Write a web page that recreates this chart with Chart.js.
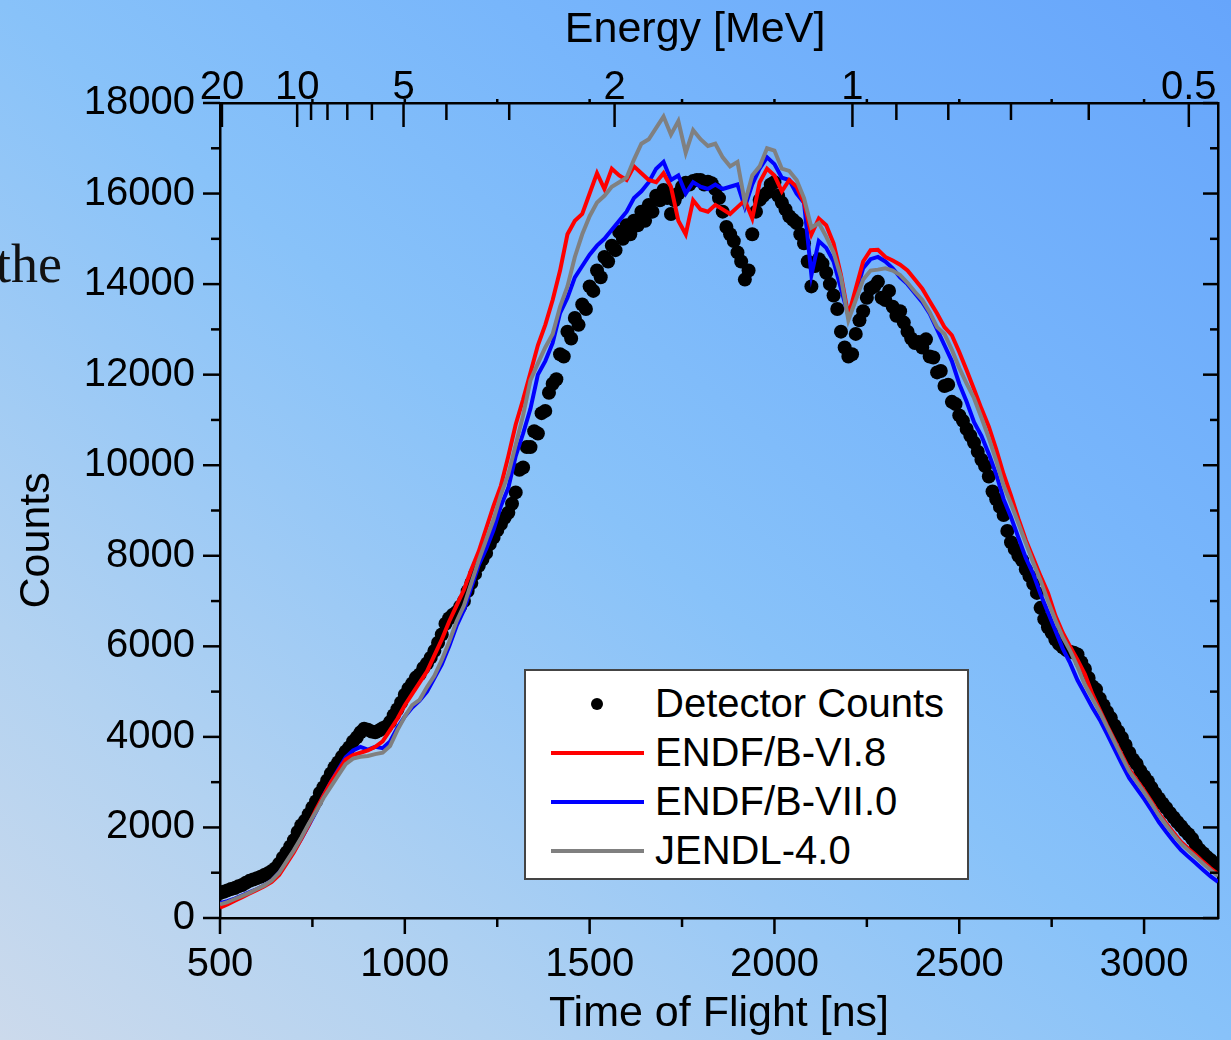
<!DOCTYPE html>
<html lang="en">
<head>
<meta charset="UTF-8">
<title>Time of Flight spectrum</title>
<style>
  html, body { margin: 0; padding: 0; }
  body {
    width: 1231px; height: 1040px; overflow: hidden; position: relative;
    background: linear-gradient(to top right, #ccdaec 0%, #b2d2f1 20%, #98c8f6 38%, #88c2f9 50%, #78b6fb 70%, #66a5fb 100%);
    font-family: "Liberation Sans", Arial, sans-serif;
  }
  #myChart { position: absolute; left: 0; top: 0; }
  .side { position: absolute; left: -4px; top: 237px; font-family: "Liberation Serif", "Times New Roman", serif;
          font-size: 54px; line-height: 1; color: #111; }
  #legend { position: absolute; left: 524px; top: 669px; width: 441px; height: 207px;
            background: #fff; border: 2px solid #444; }
  .row { position: absolute; left: 0; height: 49px; width: 100%; }
  .row span { position: absolute; left: 129px; top: 0; font-size: 40px; line-height: 49px; color: #000; white-space: nowrap; }
  .mark-line { position: absolute; left: 25px; top: 23px; width: 93px; height: 3.5px; }
  .mark-dot { position: absolute; left: 65px; top: 19px; width: 12px; height: 12px; border-radius: 50%; background: #000; }
</style>
</head>
<body>
<div class="side">the</div>
<canvas id="myChart" width="1231" height="1040"></canvas>
<div id="legend"></div>

<script src="https://cdn.jsdelivr.net/npm/chart.js"></script>
<script>
// ---- data ----
// detector counts, one point every 10 ns from 500 ns
const dotStart = 500, dotStep = 10
const detectorCounts = [
  550, 580, 610, 640, 660, 700, 730, 780, 820, 850,
  880, 910, 950, 990, 1040, 1100, 1200, 1330, 1450, 1580,
  1720, 1900, 2050, 2150, 2290, 2440, 2580, 2760, 2890, 3040,
  3190, 3330, 3440, 3560, 3680, 3770, 3900, 3990, 4100, 4180,
  4160, 4120, 4100, 4140, 4190, 4230, 4330, 4480, 4610, 4760,
  4930, 5070, 5180, 5310, 5380, 5520, 5620, 5750, 5900, 6080,
  6260, 6500, 6620, 6700, 6760, 6880, 7000, 7220, 7400, 7600,
  7780, 7920, 8060, 8260, 8400, 8560, 8700, 8840, 8950, 9150,
  9400, 9900, 9950, 10400, 10400, 10750, 10700, 11150, 11200, 11600,
  11800, 11900, 12450, 12400, 12950, 12800, 13250, 13100, 13550, 13450,
  13950, 13850, 14300, 14150, 14600, 14500, 14850, 14750, 15150, 15000,
  15300, 15100, 15400, 15300, 15600, 15400, 15750, 15600, 15950, 15850,
  16080, 15900, 15550, 15850, 16000, 16150, 16240, 16200, 16280, 16300,
  16300, 16200, 16260, 16230, 16100, 15900, 15600, 15260, 15100, 14950,
  14700, 14500, 14100, 14300, 15100, 15600, 15860, 15950, 16020, 16200,
  16250, 15950, 15800, 15650, 15500, 15420, 15350, 15100, 14900, 14500,
  13950, 14400, 14550, 14450, 14250, 14000, 13750, 13450, 12950, 12600,
  12400, 12450, 12900, 13200, 13400, 13700, 13900, 13950, 14050, 13700,
  13650, 13850, 13500, 13300, 13400, 13150, 12950, 12800, 12700, 12720,
  12600, 12780, 12400, 12380, 12050, 12080, 11750, 11780, 11400, 11350,
  11100, 10980, 10800, 10650, 10500, 10300, 10120, 9980, 9750, 9420,
  9250, 9080, 8900, 8550, 8300, 8150, 8000, 7900, 7700, 7550,
  7380, 7180, 6850, 6600, 6420, 6300, 6150, 6050, 5980, 5920,
  5880, 5860, 5820, 5650, 5500, 5300, 5120, 5050, 4850, 4700,
  4550, 4420, 4250, 4120, 3980, 3820, 3650, 3500, 3400, 3250,
  3130, 3020, 2880, 2750, 2640, 2530, 2430, 2320, 2220, 2120,
  2030, 1930, 1850, 1750, 1620, 1510, 1430, 1350, 1280, 1210,
  1150
]

// simulated spectra, one point every 20 ns from 500 ns
const simStart = 500, simStep = 20
const endfB68 = [
  230, 300, 380, 460, 540, 620, 700, 800, 950, 1200,
  1450, 1750, 2050, 2400, 2700, 3000, 3250, 3500, 3600, 3650,
  3700, 3780, 3900, 4150, 4400, 4700, 4950, 5200, 5450, 5800,
  6150, 6550, 6900, 7250, 7700, 8100, 8600, 9100, 9550, 10200,
  10900, 11450, 12050, 12650, 13100, 13650, 14300, 15100, 15400, 15550,
  16000, 16450, 16100, 16550, 16400, 16300, 16600, 16450, 16300, 16250,
  16450, 16150, 15400, 15100, 15850, 15650, 15600, 15750, 15650, 15550,
  15700, 15850, 15450, 16250, 16550, 16400, 16050, 16300, 16150, 15800,
  15100, 15450, 15300, 14900, 14200, 13300, 13900, 14500, 14750, 14760,
  14600, 14520, 14430, 14300, 14100, 13900, 13620, 13350, 13050, 12870,
  12500, 12100, 11680, 11250, 10850, 10350, 9800, 9330, 8820, 8350,
  7950, 7550, 7180, 6680, 6300, 5990, 5700, 5380, 4950, 4600,
  4250, 3930, 3600, 3280, 3050, 2820, 2570, 2310, 2090, 1880,
  1680, 1530, 1390, 1240, 1100, 970
]
const endfB70 = [
  330, 370, 430, 500, 570, 640, 720, 830, 1000, 1230,
  1480, 1750, 2050, 2350, 2700, 3000, 3280, 3550, 3700, 3780,
  3720, 3780, 3750, 3900, 4200, 4450, 4650, 4800, 5000, 5300,
  5600, 6000, 6450, 6800, 7300, 7800, 8150, 8570, 9100, 9500,
  10200, 10700, 11250, 12000, 12300, 12700, 13360, 13700, 14150, 14400,
  14650, 14850, 15000, 15200, 15400, 15600, 15900, 16050, 16250, 16550,
  16700, 16300, 16400, 16000, 16250, 16150, 16100, 16200, 16100, 16150,
  16200, 15700, 16200, 16550, 16800, 16650, 16350, 16300, 16000, 15800,
  14200, 14950, 14800, 14500, 13900, 13300, 13800, 14350, 14550, 14600,
  14500, 14350, 14150, 14000, 13800, 13600, 13350, 13000, 12650, 12300,
  11800, 11400, 10950, 10650, 10250, 9800, 9250, 8850, 8400, 7950,
  7600, 7150, 6750, 6350, 5950, 5630, 5250, 4950, 4650, 4380,
  4060, 3730, 3400, 3090, 2860, 2630, 2380, 2120, 1900, 1690,
  1500, 1350, 1210, 1060, 920, 800
]
const jendl40 = [
  300, 350, 420, 490, 560, 640, 720, 830, 1000, 1250,
  1500, 1780, 2080, 2350, 2650, 2900, 3150, 3400, 3520, 3560,
  3580, 3620, 3650, 3800, 4150, 4450, 4700, 4820, 5100, 5350,
  5700, 6100, 6550, 6900, 7400, 7900, 8350, 8800, 9350, 9800,
  10450, 11100, 11880, 12250, 12600, 12900, 13500, 13950, 14600, 15100,
  15500, 15800, 15950, 16150, 16250, 16350, 16750, 17100, 17200, 17450,
  17700, 17300, 17600, 16900, 17400, 17200, 17050, 17100, 16800, 16600,
  16700, 15800, 16400, 16600, 17000, 16950, 16550, 16500, 16300, 15900,
  15250, 15350, 15050, 14700, 14150, 13200, 13650, 14100, 14300, 14320,
  14350, 14300, 14200, 14030, 13830, 13650, 13380, 13050, 12900, 12550,
  12150, 11800, 11480, 11050, 10600, 10100, 9550, 9150, 8720, 8280,
  7850, 7450, 7000, 6580, 6200, 5900, 5550, 5150, 4850, 4550,
  4220, 3890, 3560, 3240, 3010, 2780, 2530, 2270, 2050, 1840,
  1640, 1490, 1350, 1200, 1060, 930
]

// axis ticks
const xTicks = [500, 1000, 1500, 2000, 2500, 3000]
const yTicks = [0, 2000, 4000, 6000, 8000, 10000, 12000, 14000, 16000, 18000]
const energyMajor = [20, 10, 5, 2, 1, 0.5]
const energyMajorText = ['20', '10', '5', '2', '1', '0.5']
const energyMinor = [9, 8, 7, 6, 4, 3, 0.9, 0.8, 0.7, 0.6]

// energy axis: time of flight (ns) for a neutron energy (MeV) over this flight path
const tofForEnergy = e => 14 + 2197 / Math.sqrt(e)

const toPoints = (vals, start, step) => vals.map((v, i) => ({x: start + i * step, y: v}))

Chart.defaults.font.family = '"Liberation Sans", Arial, sans-serif'
Chart.defaults.color = '#000'

const datasets = [
  {label: 'Detector Counts', data: toPoints(detectorCounts, dotStart, dotStep), showLine: false,
   pointRadius: 7, pointBackgroundColor: '#000', pointBorderWidth: 0, borderColor: '#000', order: 3},
  {label: 'ENDF/B-VI.8', data: toPoints(endfB68, simStart, simStep), borderColor: '#ff0000', order: 1},
  {label: 'ENDF/B-VII.0', data: toPoints(endfB70, simStart, simStep), borderColor: '#0000ff', order: 2},
  {label: 'JENDL-4.0', data: toPoints(jendl40, simStart, simStep), borderColor: '#808080', order: 0}
]
datasets.forEach(d => {
  d.clip = 0
  d.xAxisID = 'x'
  d.yAxisID = 'y'
  if (d.showLine !== false) { d.borderWidth = 4; d.pointRadius = 0; d.tension = 0; d.borderJoinStyle = 'miter' }
})

// tick marks: Origin style, some inward some outward
const tickMarks = {
  id: 'tickMarks',
  afterDraw(chart) {
    const {ctx, chartArea: a, scales} = chart
    ctx.save()
    ctx.strokeStyle = '#000'
    ctx.lineWidth = 2.5
    const seg = (x1, y1, x2, y2) => { ctx.beginPath(); ctx.moveTo(x1, y1); ctx.lineTo(x2, y2); ctx.stroke() }
    for (let v = 0; v <= 18000; v += 1000) {
      const py = scales.y.getPixelForValue(v)
      const major = yTicks.includes(v)
      seg(a.left - (major ? 17 : 9), py, a.left, py)
      seg(a.right, py, a.right - (major ? 15 : 8), py)
    }
    for (let t = 500; t <= 3200; t += 250) {
      const px = scales.x.getPixelForValue(t)
      const major = xTicks.includes(t)
      seg(px, a.bottom, px, a.bottom + (major ? 16 : 9))
      if (t > 500) seg(px, a.top, px, a.top - 4)
    }
    energyMajor.forEach(e => {
      const px = scales.xTop.getPixelForValue(tofForEnergy(e))
      seg(px, a.top, px, a.top + 24)
    })
    energyMinor.forEach(e => {
      const px = scales.xTop.getPixelForValue(tofForEnergy(e))
      seg(px, a.top, px, a.top + 17)
    })
    ctx.restore()
  }
}

const axisBorder = {display: true, color: '#000', width: 2.5}
const noGrid = {display: false, drawTicks: false, tickLength: 0}

var ctx = document.getElementById('myChart')
var myChart = new Chart(ctx, {
  type: 'line',
  data: {datasets: datasets},
  options: {
    responsive: false,
    animation: false,
    devicePixelRatio: 1,
    layout: {padding: 0},
    plugins: {legend: {display: false}, tooltip: {enabled: false}},
    scales: {
      x: {
        type: 'linear', position: 'bottom', min: 500, max: 3200, bounds: 'data',
        afterBuildTicks: s => { s.ticks = xTicks.map(v => ({value: v})) },
        afterFit: s => { s.height = 122 },
        grid: noGrid, border: axisBorder,
        ticks: {font: {size: 40, lineHeight: 1}, padding: 27, maxRotation: 0, autoSkip: false, callback: v => String(v)},
        title: {display: true, text: 'Time of Flight [ns]', font: {size: 43}, padding: {top: 0, bottom: 0}}
      },
      xTop: {
        type: 'linear', position: 'top', min: 500, max: 3200, bounds: 'data',
        afterBuildTicks: s => { s.ticks = energyMajor.map(e => ({value: tofForEnergy(e)})) },
        afterFit: s => { s.height = 103 },
        grid: noGrid, border: axisBorder,
        ticks: {font: {size: 40, lineHeight: 0.75}, padding: 0, maxRotation: 0, autoSkip: false,
                callback: (v, i) => energyMajorText[i]},
        title: {display: true, text: 'Energy [MeV]    ', font: {size: 43}, padding: {top: 4, bottom: 0}}
      },
      y: {
        type: 'linear', position: 'left', min: 0, max: 18000, bounds: 'data',
        afterBuildTicks: s => { s.ticks = yTicks.map(v => ({value: v})) },
        afterFit: s => { s.width = 220 },
        grid: noGrid, border: axisBorder,
        ticks: {font: {size: 40}, padding: 25, callback: v => String(v)},
        title: {display: true, text: 'Counts     ', font: {size: 43}, padding: {top: 11, bottom: 0}}
      },
      y2: {
        type: 'linear', position: 'right', min: 0, max: 18000, bounds: 'data',
        afterFit: s => { s.width = 13 },
        grid: noGrid, border: axisBorder,
        ticks: {display: false}
      }
    }
  },
  plugins: [tickMarks]
})

// legend box (Origin style, inside the plot)
const legend = document.getElementById('legend')
datasets.forEach((d, i) => {
  const row = document.createElement('div')
  row.className = 'row'
  row.style.top = (8 + i * 49) + 'px'
  const mark = document.createElement('div')
  if (d.showLine === false) {
    mark.className = 'mark-dot'
  } else {
    mark.className = 'mark-line'
    mark.style.background = d.borderColor
  }
  const txt = document.createElement('span')
  txt.textContent = d.label
  row.appendChild(mark)
  row.appendChild(txt)
  legend.appendChild(row)
})
</script>
</body>
</html>
